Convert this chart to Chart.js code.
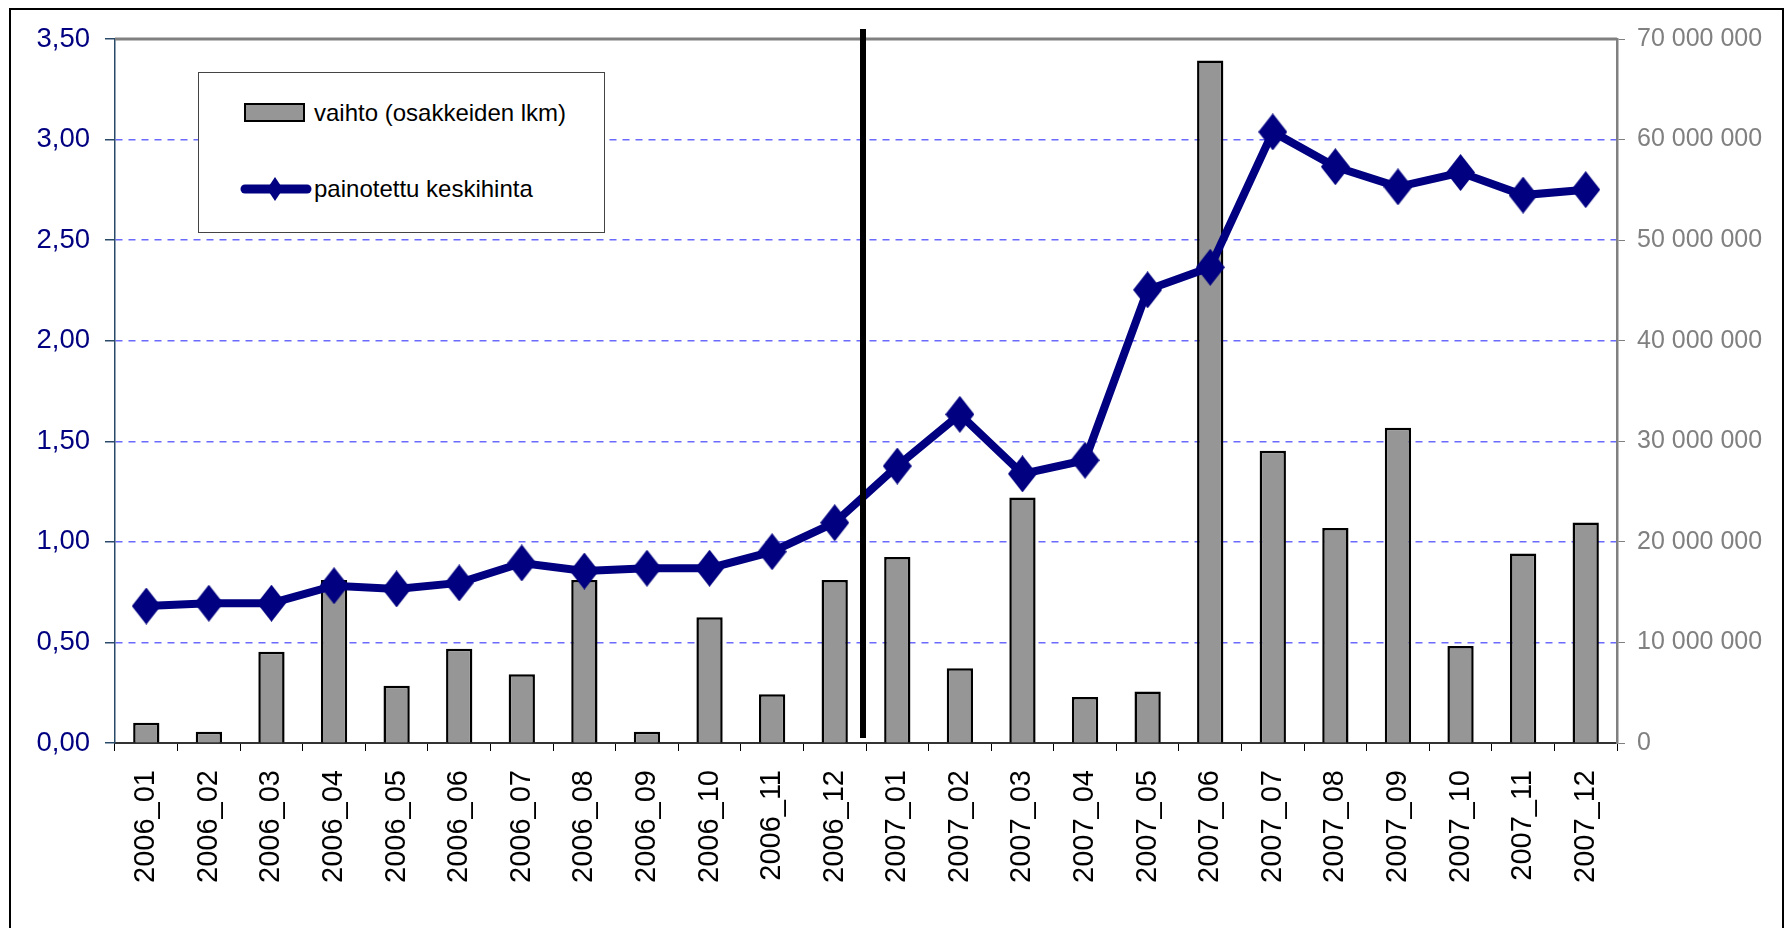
<!DOCTYPE html>
<html>
<head>
<meta charset="utf-8">
<script src="https://cdn.jsdelivr.net/npm/chart.js@4.4.1/dist/chart.umd.min.js"></script>
<style>
  body { margin: 0; background: #fff; }
  #wrap { position: relative; width: 1787px; height: 928px; overflow: hidden; }
  #frame { position: absolute; left: 9px; top: 8px; width: 1771px; height: 940px; border: 2px solid #000; }
  #chart { position: absolute; left: 0; top: 0; }
  #legend { position: absolute; left: 198px; top: 72px; width: 405px; height: 159px; border: 1.5px solid #444;
            background: #fff; font-family: 'Liberation Sans', Arial, sans-serif; font-size: 24px; color: #000; }
  #legend .sw { position: absolute; left: 45px; top: 30px; width: 61px; height: 19px; box-sizing: border-box;
                background: #969696; border: 2.5px solid #000; }
  #legend .t { position: absolute; left: 115px; line-height: 28px; white-space: nowrap; }
  #legend svg { position: absolute; left: 40px; top: 100px; }
</style>
</head>
<body>
<div id="wrap">
  <div id="frame"></div>
  <canvas id="chart" width="1787" height="928"></canvas>
  <div id="legend">
    <div class="sw"></div>
    <div class="t" style="top:26px">vaihto (osakkeiden lkm)</div>
    <svg width="75" height="32" viewBox="0 0 75 32">
      <line x1="6" y1="16" x2="68" y2="16" stroke="#000080" stroke-width="9" stroke-linecap="round"/>
      <polygon points="36,4 44,16 36,28 28,16" fill="#000080"/>
    </svg>
    <div class="t" style="top:102px">painotettu keskihinta</div>
  </div>
</div>
<script>
// kuukaudet
const months = ['2006_01', '2006_02', '2006_03', '2006_04', '2006_05', '2006_06',
                '2006_07', '2006_08', '2006_09', '2006_10', '2006_11', '2006_12',
                '2007_01', '2007_02', '2007_03', '2007_04', '2007_05', '2007_06',
                '2007_07', '2007_08', '2007_09', '2007_10', '2007_11', '2007_12'];

// vaihto (osakkeiden lkm)
const volume = [2020000, 1120000, 9080000, 16200000, 5700000, 9380000,
                6830000, 16200000, 1120000, 12500000, 4840000, 16200000,
                18500000, 7430000, 24400000, 4570000, 5110000, 67850000,
                29060000, 21390000, 31350000, 9640000, 18830000, 21930000];

// painotettu keskihinta
const avgPrice = [0.681, 0.695, 0.695, 0.782, 0.766, 0.796,
                  0.895, 0.855, 0.869, 0.869, 0.951, 1.095,
                  1.377, 1.634, 1.338, 1.406, 2.253, 2.365,
                  3.038, 2.865, 2.765, 2.836, 2.724, 2.751];

const priceMax = 3.5;
const volumeMax = 70000000;

const sans = "'Liberation Sans', Arial, sans-serif";

// diamond marker, a bit taller than wide like in the original
const diamond = document.createElement('canvas');
diamond.width = 29;
diamond.height = 37;
(function () {
    const c = diamond.getContext('2d');
    c.fillStyle = '#000080';
    c.beginPath();
    c.moveTo(14.5, 0);
    c.lineTo(29, 18.5);
    c.lineTo(14.5, 37);
    c.lineTo(0, 18.5);
    c.closePath();
    c.fill();
})();

function spaced(v) {
    return String(v).replace(/\B(?=(\d{3})+(?!\d))/g, ' ');
}

// top border of the plot and the black divider between years
const extras = {
    id: 'extras',
    beforeDatasetsDraw(chart) {
        const { ctx, chartArea } = chart;
        ctx.save();
        ctx.strokeStyle = '#808080';
        ctx.lineWidth = 3;
        ctx.beginPath();
        ctx.moveTo(chartArea.left, chartArea.top);
        ctx.lineTo(chartArea.right, chartArea.top);
        ctx.stroke();
        ctx.restore();
    },
    afterDatasetsDraw(chart) {
        const { ctx } = chart;
        const x = chart.scales.x, y = chart.scales.y;
        const px = (x.getPixelForValue(11) + x.getPixelForValue(12)) / 2 - 3;
        ctx.save();
        ctx.strokeStyle = '#000';
        ctx.lineWidth = 6;
        ctx.beginPath();
        ctx.moveTo(px, y.getPixelForValue(3.55));
        ctx.lineTo(px, y.getPixelForValue(0.025));
        ctx.stroke();
        ctx.restore();
    }
};

new Chart(document.getElementById('chart').getContext('2d'), {
    data: {
        labels: months,
        datasets: [{
            type: 'line',
            label: 'painotettu keskihinta',
            data: avgPrice,
            yAxisID: 'y',
            borderColor: '#000080',
            backgroundColor: '#000080',
            borderWidth: 8,
            pointStyle: diamond,
            pointRadius: 14,
            tension: 0,
            order: 0
        }, {
            type: 'bar',
            label: 'vaihto (osakkeiden lkm)',
            data: volume,
            yAxisID: 'y1',
            backgroundColor: '#969696',
            borderColor: '#000',
            borderWidth: 2.5,
            barPercentage: 0.42,
            categoryPercentage: 1,
            order: 1
        }]
    },
    options: {
        responsive: false,
        devicePixelRatio: 1,
        animation: false,
        layout: { padding: { top: 39, left: 0, right: 0, bottom: 0 } },
        plugins: {
            legend: { display: false },
            tooltip: { enabled: false }
        },
        scales: {
            x: {
                offset: true,
                afterFit(s) { s.height = 185; },
                grid: {
                    offset: true,
                    drawOnChartArea: false,
                    tickLength: 8,
                    color: '#000'
                },
                border: { color: '#333', width: 2 },
                ticks: {
                    autoSkip: false,
                    minRotation: 90,
                    maxRotation: 90,
                    padding: 19,
                    color: '#000',
                    font: { family: sans, size: 29 }
                }
            },
            y: {
                position: 'left',
                min: 0,
                max: priceMax,
                afterFit(s) { s.width = 115; },
                grid: {
                    color: (c) => (c.tick && (c.tick.value === 0 || c.tick.value === priceMax)) ? 'rgba(0,0,0,0)' : '#6a6aff',
                    tickColor: '#2a4a6a',
                    lineWidth: 1.5,
                    tickLength: 10
                },
                border: { color: '#2a4a6a', width: 1.5, dash: [7, 6] },
                ticks: {
                    stepSize: 0.5,
                    padding: 15,
                    color: '#000080',
                    font: { family: sans, size: 27.5 },
                    callback: (v) => v.toFixed(2).replace('.', ',')
                }
            },
            y1: {
                position: 'right',
                min: 0,
                max: volumeMax,
                afterFit(s) { s.width = 170; },
                grid: {
                    drawOnChartArea: false,
                    color: '#808080',
                    tickLength: 8
                },
                border: { color: '#808080', width: 2.5 },
                ticks: {
                    stepSize: 10000000,
                    padding: 12,
                    color: '#808080',
                    font: { family: sans, size: 25 },
                    callback: (v) => spaced(v)
                }
            }
        }
    },
    plugins: [extras]
});
</script>
</body>
</html>
